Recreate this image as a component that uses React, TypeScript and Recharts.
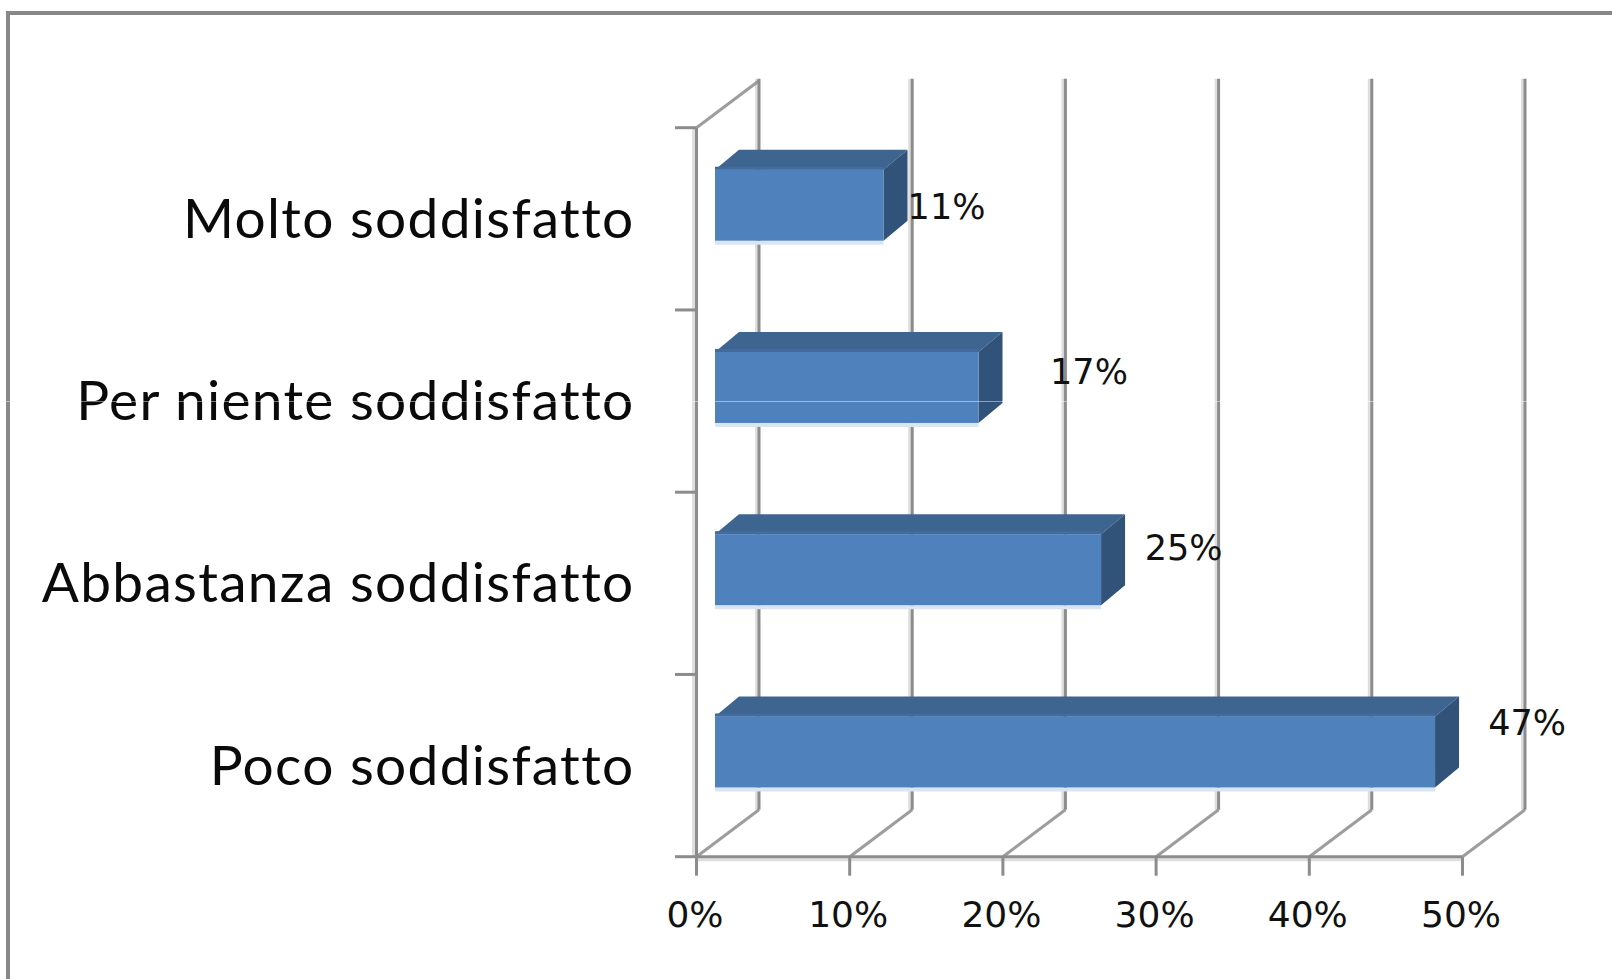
import React from "react";
import { BarChart, Bar, XAxis, YAxis, CartesianGrid, LabelList } from "recharts";

const categories = ["Molto soddisfatto", "Per niente soddisfatto", "Abbastanza soddisfatto", "Poco soddisfatto"];
const shares = [11, 17.2, 25.2, 47];
const percentTicks = [0, 10, 20, 30, 40, 50];
const labelNudgeX = [81.5, 129, 101, 110.5];
const labelNudgeY = [-13, -30, -37, -44];

const rows = categories.map((name, i) => ({ name, value: shares[i] }));

const GRID = "#8c8c8c";
const GRID_SOFT = "#dedede";
const WALL_DX = 62.5;
const WALL_DY = -47;
const BAND = 182.25;
const TICK_STEP = 153.2;

const Bar3D = (p: any) => {
  const { x, y, width } = p;
  const dx = 24;
  const dy = 20;
  const h = 71;
  const X0 = x + 18.5;
  const X1 = x + width + 18.5;
  const Y0 = y - 14;
  const Y1 = Y0 + h;
  return (
    <g>
      <rect x={X0} y={Y1} width={X1 - X0} height={4} fill="#dbe5f1" />
      <polygon points={`${X0},${Y0} ${X0 + dx},${Y0 - dy} ${X1 + dx},${Y0 - dy} ${X1},${Y0}`} fill="#3e6490" />
      <polygon points={`${X1},${Y0} ${X1 + dx},${Y0 - dy} ${X1 + dx},${Y1 - dy} ${X1},${Y1}`} fill="#325379" />
      <rect x={X0} y={Y0 - 3} width={X1 - X0} height={3} fill="#426b9e" />
      <rect x={X0} y={Y0} width={X1 - X0} height={h} fill="#4f81bd" />
    </g>
  );
};

const GridLine = (p: any) => {
  const { x1, y1, y2, index } = p;
  const top = Math.min(y1, y2);
  const bottom = Math.max(y1, y2);
  const bx = x1 + WALL_DX;
  const first = index === 0;
  const last = index === percentTicks.length - 1;
  return (
    <g fill="none">
      <line x1={bx - 2.5} x2={bx - 2.5} y1={top + WALL_DY - 2} y2={bottom + WALL_DY} stroke={GRID_SOFT} strokeWidth={3} />
      <line x1={bx} x2={bx} y1={top + WALL_DY - 2} y2={bottom + WALL_DY} stroke={GRID} strokeWidth={3} />
      <line x1={x1} x2={bx} y1={bottom} y2={bottom + WALL_DY} stroke={GRID} strokeWidth={3} opacity={0.85} />
      {first && <line x1={x1} x2={bx} y1={top} y2={top + WALL_DY} stroke={GRID} strokeWidth={3} opacity={0.85} />}
      {first && <line x1={x1 - 3} x2={x1 - 3} y1={top} y2={bottom} stroke={GRID_SOFT} strokeWidth={3} />}
      {!last && <line x1={x1} x2={x1 + TICK_STEP} y1={bottom + 3} y2={bottom + 3} stroke={GRID_SOFT} strokeWidth={3} />}
    </g>
  );
};

const CategoryTick = (p: any) => {
  const { x, y, payload, index } = p;
  const last = index === categories.length - 1;
  return (
    <g>
      <line x1={x + 42.5} x2={x + 64} y1={y - BAND / 2} y2={y - BAND / 2} stroke={GRID} strokeWidth={3} />
      {last && <line x1={x + 42.5} x2={x + 64} y1={y + BAND / 2} y2={y + BAND / 2} stroke={GRID} strokeWidth={3} />}
      <text x={x + 2} y={y + 19} textAnchor="end" fontFamily="Lato" fontSize={55} letterSpacing={1.3} fill="#0a0a0a">
        {payload.value}
      </text>
    </g>
  );
};

const ValueLabel = (p: any) => {
  const { index, value, viewBox } = p;
  const vb = viewBox || p;
  return (
    <text
      x={vb.x + vb.width + labelNudgeX[index]}
      y={vb.y + vb.height / 2 + labelNudgeY[index] + 13}
      textAnchor="middle"
      fontFamily="DejaVu Sans"
      fontSize={35}
      fill="#111"
    >
      {`${Math.round(value)}%`}
    </text>
  );
};

export default function App() {
  return (
    <div style={{ position: "absolute", left: 0, top: 0, width: 1612, height: 979, background: "#fff", overflow: "hidden" }}>
      <div style={{ position: "absolute", left: 6, top: 11, right: 0, height: 4, background: "#888" }} />
      <div style={{ position: "absolute", left: 6, top: 11, bottom: 0, width: 4, background: "#888" }} />
      <BarChart
        width={1612}
        height={979}
        layout="vertical"
        data={rows}
        margin={{ top: 127.7, right: 149.5, bottom: 0, left: 0 }}
        barSize={71}
        style={{ position: "absolute", left: 0, top: 0 }}
      >
        <CartesianGrid horizontal={false} vertical={GridLine as any} />
        <XAxis
          type="number"
          domain={[0, 50]}
          ticks={percentTicks}
          tickFormatter={(v: number) => `${v}%`}
          height={122.3}
          interval={0}
          tickSize={19}
          tickMargin={26}
          axisLine={{ stroke: GRID, strokeWidth: 3 }}
          tickLine={{ stroke: GRID, strokeWidth: 3 }}
          tick={{ fontFamily: "DejaVu Sans", fontSize: 36, fill: "#111", dx: -1.5 }}
        />
        <YAxis
          type="category"
          dataKey="name"
          width={696.5}
          interval={0}
          tickSize={0}
          tickMargin={64}
          tickLine={false}
          axisLine={{ stroke: GRID, strokeWidth: 3 }}
          tick={CategoryTick as any}
        />
        <Bar dataKey="value" isAnimationActive={false} shape={Bar3D as any}>
          <LabelList dataKey="value" content={ValueLabel as any} />
        </Bar>
      </BarChart>
      <div style={{ position: "absolute", left: 0, top: 401, right: 0, height: 1, background: "rgba(255,255,255,0.45)" }} />
    </div>
  );
}
